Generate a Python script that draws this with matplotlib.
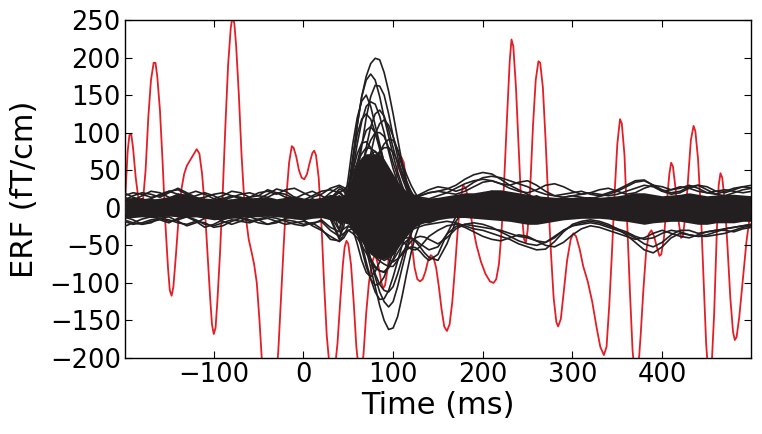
import numpy as np
import matplotlib
matplotlib.use("Agg")
import matplotlib.pyplot as plt

# time grid of the sensor traces (ms): 10 ms steps, 5 ms around the M100
times = np.concatenate([np.arange(-200, 40, 10), np.arange(40, 141, 5), np.arange(150, 501, 10)])

# dense core of the overlapping gradiometer traces (fT/cm)
core_upper = [12, 14, 13, 11, 13, 15, 20, 18, 14, 13, 12, 11, 12, 14, 13, 14, 15, 12, 14, 16, 13, 12, 14, 18,
              15, 18, 25, 45, 60, 68, 72, 72, 72, 70, 65, 55, 45, 35, 28, 22, 18, 16, 14, 13, 13,
              14, 16, 18, 20, 20, 22, 24, 24, 22, 20, 18, 16, 15, 14, 14, 14, 15, 15, 14, 15, 16, 18, 20, 20, 18,
              16, 17, 18, 20, 18, 16, 17, 18, 18, 17, 16]
core_lower = [-14, -13, -12, -13, -12, -11, -12, -13, -12, -14, -16, -15, -14, -13, -12, -12, -11, -12, -13, -15, -16, -14, -13, -16,
              -18, -20, -22, -28, -35, -45, -55, -62, -66, -68, -68, -65, -60, -52, -45, -38, -30, -25, -22, -20, -20,
              -16, -14, -13, -13, -14, -15, -16, -17, -18, -20, -22, -22, -20, -18, -16, -15, -14, -14, -14, -15, -17, -18, -20, -22, -20,
              -19, -18, -18, -20, -22, -22, -20, -20, -20, -18, -18]

# individual channels
channels = {
    "p1": [3, 8, 12, 6, -2, -8, -4, 5, 10, 7, 0, -6, -10, -5, 3, 9, 12, 8, 2, -4, -8, -3, 4, -12,
           -40, -25, 15, 60, 110, 148, 175, 192, 199, 197, 180, 155, 125, 92, 60, 33, 14, 0, -10, -17, -20,
           -12, -2, 6, 10, 14, 18, 22, 16, 8, 0, -6, -12, -8, -2, 4, 8, 5, -2, -8, -10, -4, 4, 10, 12, 6,
           -2, -8, -12, -6, 3, 9, 6, -1, -6, -3, 2],
    "p2": [-6, -2, 5, 11, 9, 2, -5, -9, -4, 4, 10, 13, 7, -2, -9, -11, -5, 4, 11, 8, 0, -7, -10, -15,
           -42, -15, 25, 68, 110, 148, 170, 178, 170, 148, 120, 95, 70, 48, 30, 15, 5, -3, -8, -11, -12,
           -6, 3, 10, 14, 9, 2, -4, -8, -3, 5, 12, 16, 10, 2, -5, -9, -6, 1, 7, 10, 6, -2, -9, -14, -10,
           -3, 5, 10, 7, -1, -7, -10, -4, 4, 9, 6],
    "p3": [8, 4, -3, -9, -7, 1, 8, 12, 7, -1, -7, -4, 4, 10, 13, 7, -2, -8, -6, 2, 9, 12, 7, 0,
           -20, -10, 5, 20, 45, 82, 120, 148, 163, 162, 150, 125, 95, 68, 45, 28, 15, 6, 0, -4, -6,
           -2, 5, 9, 6, 0, -6, -9, -4, 4, 10, 8, 2, -5, -10, -7, 0, 7, 11, 8, 1, -6, -9, -5, 3, 10,
           12, 6, -3, -10, -8, -1, 6, 11, 8, 1, -4],
    "p4": [-10, -4, 4, 9, 6, -1, -7, -5, 3, 10, 8, 1, -6, -9, -3, 6, 11, 7, -1, -8, -6, 3, 10, 5,
           -30, 0, 40, 85, 120, 142, 150, 135, 110, 85, 60, 38, 20, 8, 0, -5, -8, -9, -10, -8, -5,
           2, 7, 9, 4, -3, -8, -5, 3, 11, 14, 9, 0, -8, -11, -6, 2, 9, 7, 0, -6, -9, -3, 5, 9, 4,
           -4, -10, -7, 1, 8, 10, 4, -4, -9, -5, 2],
    "p5": [5, 10, 7, 0, -6, -8, -2, 6, 9, 4, -3, -8, -6, 2, 8, 10, 4, -3, -8, -5, 3, 8, 6, -2,
           -10, -5, 5, 15, 30, 52, 80, 108, 125, 130, 122, 104, 80, 58, 40, 24, 12, 4, -2, -5, -6,
           -1, 5, 8, 12, 15, 10, 3, -5, -10, -6, 2, 9, 12, 6, -2, -7, -4, 3, 8, 5, -2, -8, -6, 2, 9,
           11, 5, -3, -8, -5, 3, 9, 7, 0, -6, -8],
    "p6": [-3, -8, -6, 1, 7, 9, 3, -4, -9, -6, 2, 8, 10, 5, -2, -7, -6, 1, 7, 9, 4, -3, -7, -5,
           0, 4, 10, 16, 25, 36, 50, 72, 98, 112, 117, 110, 95, 76, 55, 36, 20, 8, 0, -5, -8,
           -6, 0, 6, 9, 5, -1, -6, -8, -2, 6, 10, 7, 0, -7, -9, -4, 4, 9, 6, -1, -7, -8, -2, 5, 8,
           3, -4, -8, -4, 4, 9, 6, -2, -8, -6, 0],
    "p7": [6, 2, -4, -8, -4, 3, 8, 6, 0, -6, -9, -3, 5, 9, 6, -1, -6, -8, -2, 6, 9, 4, -4, -8,
           -15, -5, 15, 36, 60, 85, 103, 108, 100, 82, 60, 40, 22, 10, 3, -2, -6, -8, -8, -6, -3,
           4, 8, 5, -2, -6, -3, 4, 9, 12, 8, 1, -6, -9, -4, 3, 8, 6, 0, -5, -7, -2, 5, 8, 4, -3,
           -7, -4, 3, 8, 6, -1, -6, -7, -2, 5, 7],
    "p8": [-5, 1, 7, 8, 3, -4, -8, -5, 2, 8, 7, 1, -5, -8, -3, 5, 9, 6, -1, -7, -6, 1, 8, 10,
           5, 5, 6, 9, 15, 21, 30, 44, 60, 74, 85, 91, 90, 78, 60, 44, 30, 19, 10, 4, 0,
           -4, 0, 5, 8, 4, -2, -7, -6, 1, 7, 9, 4, -3, -8, -5, 2, 8, 7, 1, -5, -8, -3, 4, 8, 5,
           -2, -7, -6, 1, 7, 8, 2, -5, -7, -2, 4],
    "p9": [2, -4, -8, -5, 2, 8, 9, 3, -4, -8, -4, 3, 8, 7, 1, -5, -8, -4, 4, 8, 5, -2, -6, -4,
           0, 3, 8, 14, 25, 42, 60, 71, 75, 70, 60, 45, 30, 18, 8, 1, -4, -7, -8, -6, -4,
           3, 7, 5, -1, -6, -7, -1, 6, 9, 5, -2, -7, -6, 0, 6, 8, 3, -4, -8, -5, 2, 7, 6, 0, -6,
           -8, -3, 4, 8, 5, -2, -7, -5, 1, 6, 5],
    "p10": [4, 8, 5, -2, -7, -6, 0, 6, 8, 3, -3, -7, -5, 1, 7, 8, 3, -3, -7, -4, 2, 7, 5, -1,
            -5, -3, 0, 6, 15, 24, 35, 46, 55, 55, 50, 41, 30, 20, 12, 6, 2, -1, -4, -5, -6,
            -2, 3, 7, 5, 0, -5, -6, -1, 5, 8, 4, -2, -6, -5, 1, 6, 7, 2, -4, -7, -3, 3, 7, 5, -1,
            -6, -6, 0, 5, 7, 3, -3, -6, -4, 2, 5],
    "p11": [-7, -3, 4, 8, 6, -1, -6, -7, -1, 5, 9, 5, -2, -7, -6, 0, 6, 8, 3, -3, -7, -4, 3, 6,
            0, 4, 10, 20, 35, 55, 75, 90, 100, 100, 95, 80, 60, 42, 25, 13, 5, -1, -5, -7, -8,
            -4, 2, 6, 7, 3, -3, -7, -5, 2, 8, 9, 3, -4, -7, -3, 4, 8, 5, -2, -7, -6, 0, 6, 8, 3,
            -4, -8, -5, 2, 7, 6, 0, -5, -6, -1, 3],
    "p12": [1, 6, 9, 4, -3, -8, -6, 2, 8, 7, 0, -6, -8, -2, 5, 9, 6, -1, -7, -7, -1, 6, 8, 2,
            -20, -5, 20, 50, 85, 115, 135, 141, 138, 122, 100, 75, 52, 34, 20, 10, 3, -2, -5, -6, -5,
            -3, 4, 9, 6, -1, -7, -8, -2, 5, 9, 5, -2, -7, -6, 0, 6, 8, 3, -4, -8, -5, 2, 7, 7, 1,
            -5, -7, -3, 4, 8, 5, -2, -7, -6, 0, 5],
    "p13": [-4, -8, -5, 2, 8, 7, 1, -5, -8, -4, 3, 8, 7, 0, -6, -8, -3, 4, 8, 6, -1, -6, -7, -10,
            -30, -10, 25, 62, 98, 118, 125, 118, 100, 78, 56, 38, 24, 14, 6, 0, -4, -6, -6, -5, -3,
            2, 7, 8, 3, -4, -8, -5, 2, 8, 7, 1, -5, -8, -4, 3, 8, 6, -1, -6, -7, -2, 5, 8, 4, -3,
            -7, -6, 1, 6, 7, 2, -4, -7, -4, 2, 6],
    "p14": [7, 2, -5, -8, -3, 4, 8, 5, -2, -7, -6, 1, 7, 8, 2, -5, -8, -4, 3, 8, 7, 1, -4, -6,
            -12, 2, 22, 48, 72, 86, 88, 80, 66, 50, 35, 22, 12, 5, 0, -3, -5, -5, -4, -2, 0,
            3, 6, 4, -2, -6, -5, 1, 6, 8, 3, -3, -7, -5, 1, 7, 7, 1, -5, -8, -3, 4, 8, 5, -2, -7,
            -6, 0, 6, 7, 2, -4, -7, -4, 2, 7, 5],
    "p15": [-2, 4, 8, 6, -1, -7, -7, -1, 6, 8, 3, -4, -8, -5, 2, 8, 7, 0, -6, -7, -2, 5, 8, 4,
            0, 2, 6, 12, 20, 30, 42, 55, 66, 75, 80, 80, 74, 62, 48, 34, 22, 12, 5, 0, -3,
            -5, -3, 2, 7, 6, 0, -6, -8, -3, 4, 8, 5, -2, -7, -6, 1, 7, 7, 1, -5, -8, -3, 4, 8, 4,
            -3, -7, -5, 2, 7, 6, -1, -6, -6, 0, 5],
    "n1": [-4, 2, 8, 10, 4, -3, -8, -6, 1, 7, 9, 3, -4, -8, -5, 2, 8, 9, 4, -2, -6, -2, 5, 12,
           25, 22, 12, -3, -20, -36, -55, -80, -105, -130, -150, -162, -160, -145, -118, -88, -60, -37, -20, -9, -3,
           4, 7, 3, -3, -7, -4, 3, 8, 6, -1, -7, -10, -6, 1, 7, 9, 4, -3, -8, -6, 1, 7, 9, 3, -4,
           -9, -6, 2, 8, 7, 0, -6, -8, -3, 4, 6],
    "n2": [9, 4, -3, -7, -5, 2, 7, 8, 2, -5, -8, -4, 3, 8, 6, -1, -7, -7, 0, 6, 8, 3, -2, 8,
           22, 15, 5, -5, -15, -28, -45, -68, -92, -112, -125, -132, -125, -105, -80, -56, -35, -20, -10, -4, 0,
           3, 1, -4, -8, -5, 2, 8, 9, 3, -4, -9, -7, 0, 6, 8, 3, -4, -8, -5, 2, 7, 6, -1, -7, -8,
           -2, 5, 9, 5, -2, -8, -7, 0, 6, 7, 2],
    "n3": [-8, -3, 4, 8, 6, -1, -6, -8, -3, 4, 8, 6, 0, -6, -8, -3, 5, 9, 5, -2, -7, -5, 2, 10,
           15, 6, -5, -15, -28, -48, -72, -95, -112, -122, -121, -110, -92, -71, -50, -33, -20, -11, -5, -1, 1,
           3, 0, -5, -8, -4, 3, 9, 7, 0, -6, -9, -5, 2, 8, 7, 1, -5, -8, -4, 3, 8, 6, 0, -6, -7,
           -2, 5, 8, 4, -3, -8, -6, 1, 7, 6, 1],
    "n4": [5, 9, 5, -2, -7, -6, 0, 6, 8, 3, -3, -8, -6, 1, 7, 8, 2, -4, -8, -4, 3, 8, 6, 2,
           8, 2, -8, -18, -32, -55, -78, -95, -103, -101, -92, -76, -58, -40, -25, -15, -8, -4, -2, -1, 0,
           -3, -6, -3, 3, 8, 7, 1, -6, -9, -4, 3, 9, 7, 0, -6, -7, -2, 5, 8, 4, -3, -8, -6, 1, 7,
           7, 1, -5, -8, -4, 3, 8, 6, -1, -6, -5],
    "n5": [-2, -7, -7, -1, 5, 8, 4, -3, -7, -5, 2, 8, 7, 1, -5, -8, -3, 4, 8, 5, -2, -6, -4, 3,
           5, -2, -12, -28, -48, -70, -86, -92, -85, -72, -58, -42, -28, -17, -9, -4, 0, 2, 3, 2, 0,
           -5, -8, -4, 3, 8, 6, 0, -6, -8, -3, 4, 8, 6, -1, -7, -6, 0, 6, 8, 3, -4, -8, -5, 2, 8,
           6, -1, -7, -7, -1, 6, 8, 3, -4, -7, -3],
    "n6": [7, 3, -4, -8, -5, 2, 8, 7, 1, -5, -7, -2, 5, 8, 4, -3, -7, -6, 1, 7, 6, 1, -4, -3,
           5, 4, 2, -4, -10, -17, -25, -35, -45, -54, -62, -69, -72, -68, -62, -56, -52, -53, -58, -65, -70,
           -62, -35, -12, 0, 5, 3, -3, -8, -6, 1, 7, 7, 1, -5, -8, -3, 4, 8, 5, -2, -7, -7, -1, 6, 8,
           3, -4, -8, -5, 2, 8, 6, -1, -6, -5, 0],
    "n7": [-6, -9, -4, 3, 8, 6, -1, -6, -8, -2, 5, 8, 4, -3, -7, -6, 1, 7, 7, 1, -5, -7, -2, 6,
           10, 6, 0, -7, -15, -23, -30, -37, -42, -46, -48, -47, -45, -43, -42, -40, -40, -45, -52, -60, -66,
           -70, -48, -18, -2, 4, 6, 2, -4, -8, -5, 2, 7, 6, 0, -6, -7, -2, 5, 8, 3, -4, -8, -5, 2, 7,
           6, -1, -6, -7, -1, 5, 8, 3, -3, -6, -3],
    "n8": [3, -2, -7, -6, 0, 6, 7, 2, -4, -7, -3, 4, 8, 5, -2, -7, -6, 1, 6, 7, 2, -4, -6, 0,
           10, 6, 0, -8, -18, -29, -40, -50, -55, -55, -52, -44, -35, -26, -18, -11, -6, -3, -2, -3, -4,
           -8, -5, 1, 6, 7, 2, -4, -7, -4, 2, 7, 6, 0, -6, -7, -2, 5, 7, 3, -3, -7, -5, 1, 6, 6,
           1, -5, -7, -3, 3, 7, 5, -1, -6, -5, 1],
    "n9": [6, 1, -5, -8, -4, 3, 8, 6, -1, -7, -6, 1, 7, 8, 2, -5, -8, -4, 3, 8, 6, 0, 4, 14,
           20, 14, 4, -8, -20, -35, -52, -70, -88, -102, -110, -112, -105, -88, -68, -48, -32, -20, -12, -7, -4,
           -2, 3, 7, 5, -2, -7, -6, 1, 7, 8, 2, -5, -8, -4, 3, 8, 6, -1, -7, -7, -1, 6, 8, 3, -4,
           -8, -5, 2, 8, 7, 0, -6, -8, -3, 4, 7],
    "n10": [-5, -8, -3, 4, 8, 5, -2, -7, -6, 1, 7, 7, 1, -5, -8, -3, 4, 8, 5, -2, -7, -5, 3, 10,
            16, 10, 0, -12, -25, -40, -55, -68, -78, -84, -86, -80, -68, -52, -38, -26, -16, -9, -4, -1, 0,
            2, -2, -6, -5, 1, 7, 8, 2, -5, -8, -4, 3, 8, 6, -1, -7, -7, -1, 6, 8, 3, -4, -8, -5, 2,
            7, 6, -1, -6, -6, 0, 5, 7, 2, -4, -6],
    "e1": [10, 16, 20, 18, 14, 20, 26, 20, 14, 10, 8, 12, 16, 14, 10, 12, 18, 25, 22, 14, 8, 5, 10, 20,
           28, 24, 18, 11, 5, 0, -5, -8, -10, -10, -8, -4, 0, 4, 8, 10, 12, 14, 16, 18, 20,
           22, 25, 30, 38, 44, 47, 45, 38, 30, 24, 18, 12, 8, 10, 14, 16, 14, 12, 15, 18, 22, 28, 34, 36, 30,
           24, 20, 22, 28, 30, 24, 18, 16, 20, 24, 26],
    "e2": [-25, -20, -15, -12, -14, -18, -16, -12, -18, -26, -22, -16, -12, -14, -18, -15, -12, -14, -18, -22, -24, -20, -28, -42,
           -44, -36, -25, -26, -30, -37, -45, -53, -60, -66, -70, -67, -62, -54, -45, -37, -30, -27, -25, -23, -22,
           -20, -18, -20, -24, -28, -30, -34, -38, -42, -48, -52, -56, -55, -45, -32, -22, -18, -16, -18, -22, -28, -36, -46, -56, -60,
           -52, -40, -34, -36, -38, -36, -32, -28, -26, -24, -22],
    "e3": [16, 20, 18, 14, 16, 22, 24, 18, 12, 14, 18, 20, 16, 12, 14, 20, 22, 18, 24, 26, 20, 14, 18, 26,
           30, 27, 22, 17, 12, 15, 20, 25, 30, 28, 25, 20, 15, 12, 10, 11, 12, 15, 18, 21, 24,
           28, 26, 22, 26, 34, 40, 42, 40, 36, 32, 28, 22, 18, 16, 18, 20, 22, 18, 16, 20, 24, 30, 36, 37, 30,
           22, 18, 20, 26, 30, 28, 22, 20, 24, 28, 30],
    "e4": [-18, -22, -20, -16, -14, -16, -20, -22, -18, -20, -26, -24, -18, -14, -16, -20, -22, -18, -16, -18, -22, -20, -18, -30,
           -38, -34, -30, -34, -40, -50, -60, -71, -80, -84, -85, -79, -70, -60, -50, -44, -40, -43, -48, -52, -56,
           -52, -35, -25, -22, -24, -26, -28, -30, -34, -38, -40, -44, -46, -40, -30, -24, -20, -18, -20, -24, -28, -32, -38, -42, -40,
           -34, -30, -32, -36, -38, -38, -36, -34, -30, -26, -24],
    "e5": [20, 14, 10, 12, 18, 22, 18, 12, 16, 20, 16, 10, 14, 18, 20, 16, 14, 20, 18, 12, 10, 16, 22, 24,
           20, 24, 30, 44, 60, 72, 80, 79, 75, 66, 55, 45, 35, 28, 22, 20, 18, 16, 14, 13, 12,
           16, 20, 26, 32, 36, 38, 36, 32, 30, 34, 36, 30, 22, 16, 14, 16, 18, 20, 18, 16, 18, 22, 26, 30, 28,
           22, 24, 28, 26, 22, 20, 22, 24, 22, 20, 22],
    "e6": [-16, -20, -22, -18, -16, -20, -14, -12, -16, -22, -24, -20, -16, -18, -20, -16, -14, -18, -22, -20, -18, -22, -16, -26,
           -32, -28, -24, -29, -36, -43, -50, -58, -65, -71, -75, -78, -78, -70, -60, -52, -45, -40, -38, -39, -42,
           -48, -40, -28, -22, -20, -22, -26, -32, -38, -44, -48, -50, -46, -38, -30, -24, -22, -20, -22, -26, -30, -34, -40, -48, -52,
           -46, -36, -30, -30, -34, -32, -30, -30, -32, -28, -26],
    "e7": [14, 10, 16, 22, 20, 14, 12, 18, 22, 18, 12, 16, 22, 20, 14, 16, 24, 20, 14, 12, 18, 22, 16, 10,
           12, 14, 18, 25, 35, 45, 52, 50, 44, 38, 32, 26, 22, 18, 14, 12, 12, 14, 16, 18, 20,
           22, 20, 18, 22, 28, 34, 36, 32, 26, 22, 20, 24, 30, 32, 28, 22, 18, 20, 24, 26, 22, 18, 20, 26, 30,
           28, 24, 26, 30, 26, 20, 18, 22, 26, 28, 26],
    "e8": [-12, -16, -22, -20, -14, -12, -18, -24, -20, -14, -12, -18, -22, -18, -12, -16, -22, -20, -14, -12, -16, -24, -30, -38,
           -45, -40, -30, -28, -32, -40, -50, -58, -62, -60, -55, -48, -42, -40, -44, -50, -55, -56, -52, -45, -38,
           -30, -24, -22, -26, -32, -38, -42, -44, -40, -36, -38, -44, -50, -52, -46, -36, -28, -24, -26, -30, -34, -38, -42, -40,
           -34, -30, -34, -38, -40, -36, -32, -30, -28, -26, -24, -22],
}

# the highlighted (red) channel
red_t = [-200, -198, -196, -194, -192, -190, -187, -184, -181, -179, -176, -173, -170, -167, -165, -163, -160, -157, -154, -151,
         -149, -147, -145, -142, -139, -136, -133, -130, -126, -122, -119, -116, -113, -110, -107, -104, -102, -100, -98, -96,
         -93, -90, -87, -84, -81, -79, -77, -75, -72, -69, -66, -64, -61, -58, -55, -52, -49, -46, -43, -39,
         -35, -31, -28, -25, -22, -19, -16, -13, -11, -8, -5, -2, 1, 4, 7, 10, 12, 14, 17, 20,
         23, 26, 29, 32, 35, 38, 41, 44, 46, 48, 50, 53, 56, 59, 62, 64, 67, 70, 73, 76,
         79, 81, 84, 87, 89, 91, 94, 97, 100, 103, 106, 109, 112, 115, 118, 121, 124, 127, 130, 133,
         136, 139, 142, 145, 148, 151, 154, 157, 160, 163, 166, 169, 172, 175, 178, 181, 184, 188, 193, 198,
         203, 208, 212, 215, 218, 221, 224, 227, 230, 232, 234, 237, 240, 243, 246, 248, 250, 253, 256, 259,
         262, 264, 267, 270, 273, 276, 279, 282, 284, 287, 290, 294, 298, 301, 304, 308, 312, 317, 322, 327,
         331, 335, 338, 341, 344, 347, 350, 353, 355, 358, 361, 364, 367, 370, 373, 376, 379, 382, 385, 388,
         391, 394, 397, 399, 402, 405, 408, 410, 412, 415, 418, 421, 423, 426, 429, 432, 435, 437, 440, 443,
         446, 449, 452, 455, 458, 461, 463, 465, 467, 470, 473, 476, 479, 481, 483, 486, 490, 494, 497, 500]
red_v = [-15, 30, 75, 97, 98, 80, 40, 12, 3, 8, 50, 120, 170, 193, 193, 175, 130, 60, -20, -80,
         -110, -117, -105, -60, -10, 25, 45, 56, 64, 72, 78, 72, 45, 0, -60, -120, -155, -168, -160, -125,
         -60, 20, 110, 190, 240, 255, 245, 215, 150, 70, 10, -15, -42, -58, -75, -100, -150, -210, -250, -270,
         -265, -235, -190, -120, -50, 15, 60, 82, 80, 68, 50, 40, 38, 45, 60, 73, 76, 70, 40, -20,
         -100, -170, -210, -225, -215, -180, -125, -75, -52, -44, -48, -75, -125, -185, -220, -225, -195, -140, -100, -75,
         -64, -66, -80, -100, -107, -103, -80, -40, 0, 35, 60, 68, 60, 30, -10, -50, -80, -95, -98, -95,
         -85, -70, -63, -66, -80, -105, -135, -158, -164, -155, -125, -80, -30, 10, 30, 26, 10, -20, -50, -72,
         -88, -98, -100, -95, -75, -30, 40, 120, 195, 224, 215, 160, 80, 0, -42, -46, -30, 30, 110, 170,
         195, 193, 160, 90, 10, -60, -120, -152, -158, -148, -115, -70, -42, -34, -38, -55, -78, -98, -125, -160,
         -185, -196, -185, -130, -60, 20, 85, 118, 112, 70, -20, -110, -190, -230, -220, -170, -110, -60, -35, -30,
         -38, -52, -64, -62, -40, 5, 45, 60, 55, 25, -15, -40, -38, -10, 40, 90, 109, 102, 65, 0,
         -90, -180, -232, -215, -140, -30, 30, 46, 40, 5, -55, -120, -165, -176, -172, -145, -95, -45, -18, 0]

black = "#231f20"
red = "#e21f26"

fig = plt.figure(figsize=(7.62, 4.34), dpi=100)
ax = fig.add_axes([0.164, 0.175, 0.8215, 0.779])

ax.plot(red_t, red_v, color=red, linewidth=1.3, zorder=1)
ax.fill_between(times, core_lower, core_upper, color=black, linewidth=0, zorder=2)
for name, vals in channels.items():
    ax.plot(times, vals, color=black, linewidth=1.2, zorder=3)

ax.set_xlim(-199, 499)
ax.set_ylim(-200, 250)
ax.set_xticks([-100, 0, 100, 200, 300, 400])
ax.set_yticks(range(-200, 251, 50))
ax.tick_params(direction="in", top=True, right=True, length=5, labelsize=18.5, pad=3)
for s in ax.spines.values():
    s.set_linewidth(1.0)
ax.set_xlabel("Time (ms)", fontsize=22, labelpad=2)
ax.set_ylabel("ERF (fT/cm)", fontsize=22, labelpad=8)

fig.savefig("out.png", dpi=100)
